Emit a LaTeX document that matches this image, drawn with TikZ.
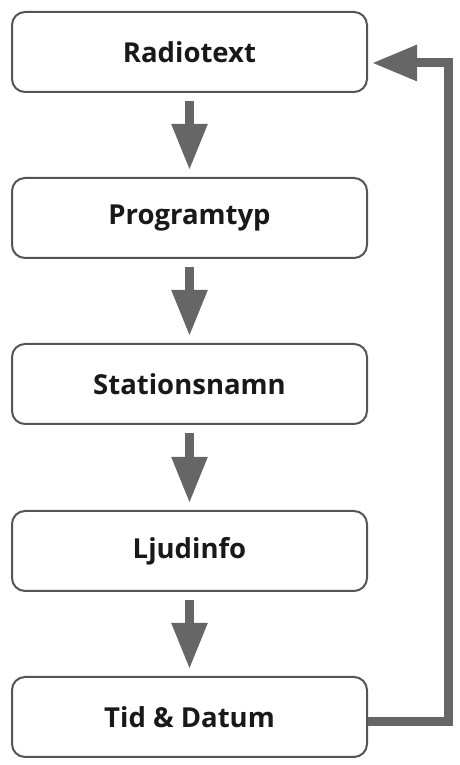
\documentclass[tikz,border=0pt]{standalone}
\usepackage{fontspec}
\setmainfont{Open Sans}
\usetikzlibrary{arrows.meta,calc}
\definecolor{boxline}{HTML}{555555}
\definecolor{arrowgray}{HTML}{666666}
\begin{document}
\begin{tikzpicture}[x=1pt,y=1pt,
  stepbox/.style={draw=boxline, line width=2pt, rounded corners=13pt, fill=white,
    minimum width=355pt, minimum height=80pt, inner sep=0pt,
    font=\fontsize{27.5}{32}\selectfont\bfseries, text=black!90},
  flow/.style={draw=arrowgray, line width=8.5pt,
    -{Triangle[length=46pt,width=34pt]}},
  loop/.style={draw=arrowgray, line width=9pt, line join=miter,
    -{Triangle[length=45pt,width=34pt]}}]
\useasboundingbox (0,0) rectangle (459,765);
\node[stepbox] (n1) at (189.5,713) {Radiotext};
\node[stepbox] (n2) at (189.5,547) {Programtyp};
\node[stepbox] (n3) at (189.5,381) {Stationsnamn};
\node[stepbox] (n4) at (189.5,214) {Ljudinfo};
\node[stepbox] (n5) at (189.5,48) {Tid \& Datum};
\foreach \a/\b in {n1/n2,n2/n3,n3/n4,n4/n5}
  \draw[flow, shorten <=8pt, shorten >=7pt] (\a.south) -- (\b.north);
\coordinate (rb) at (448,43);
\coordinate (rt) at (448,702);
\coordinate (rin) at ($(n1.east)+(4,-11)$);
\draw[loop] ($(n5.east)+(0,-5)$) -- (rb) -- (rt) -- (rin);
\end{tikzpicture}
\end{document}
